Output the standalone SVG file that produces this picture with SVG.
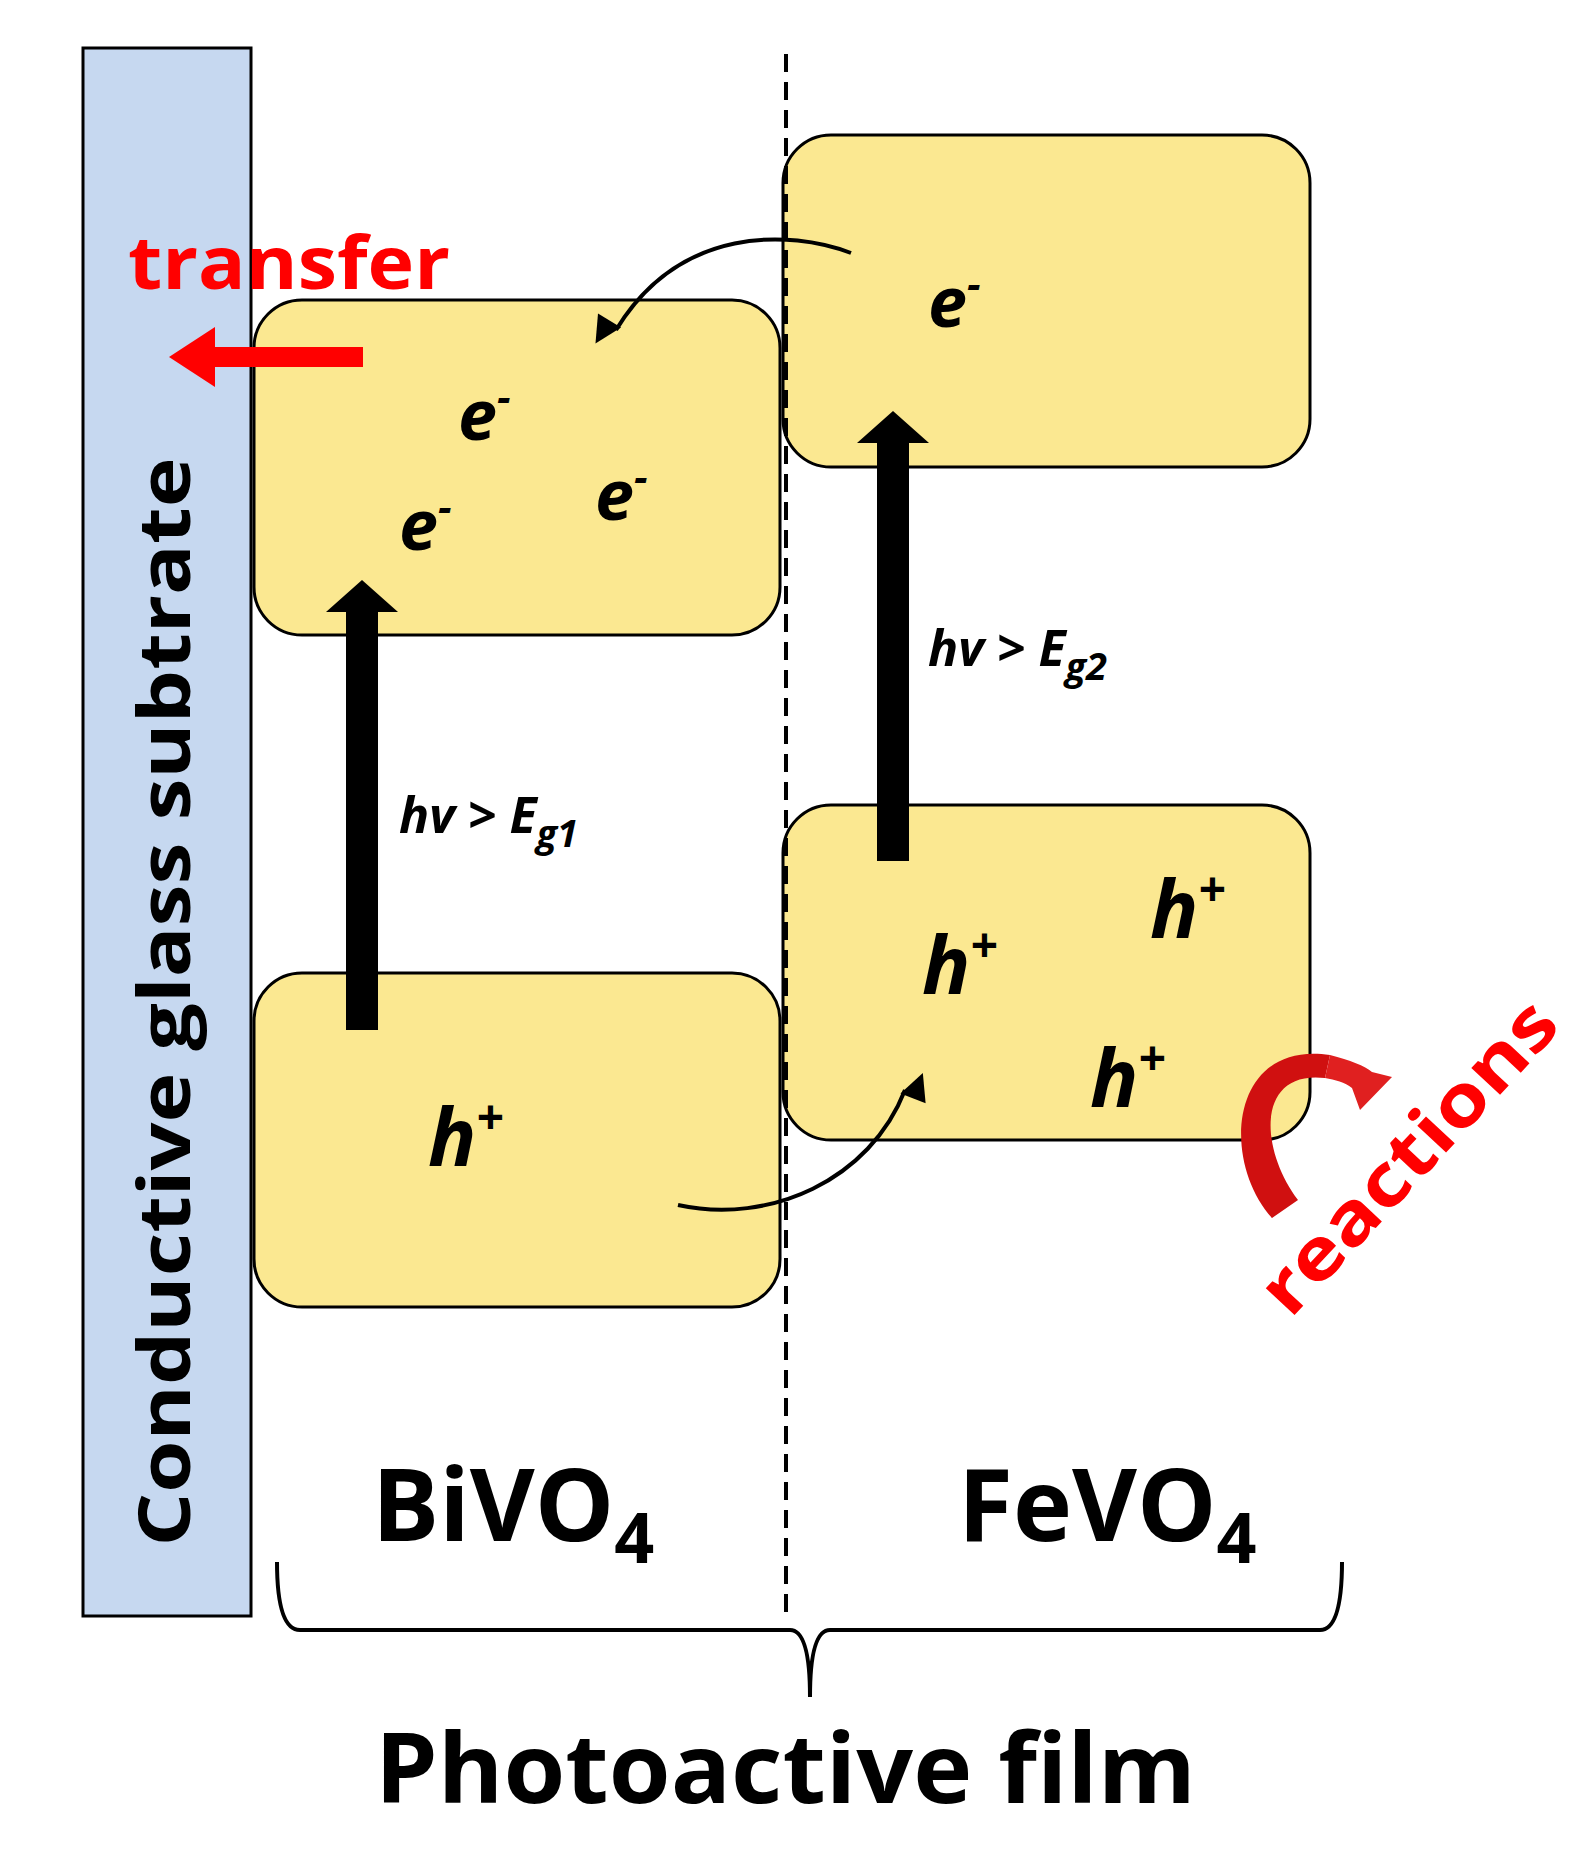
<svg xmlns="http://www.w3.org/2000/svg" width="1584" height="1868" viewBox="0 0 1584 1868">
<style>
.box{fill:#fbe891;stroke:#000;stroke-width:3}
.t{font-family:"Open Sans","DejaVu Sans",sans-serif;font-weight:bold}
.it{font-family:"Open Sans","DejaVu Sans",sans-serif;font-weight:bold;font-style:italic}
.cur{fill:none;stroke:#000;stroke-width:4}
</style>
<defs>
<marker id="ah" viewBox="0 0 10 10" refX="8" refY="5" markerWidth="6" markerHeight="6" orient="auto" markerUnits="userSpaceOnUse" style="overflow:visible">
<path d="M0,0 L10,5 L0,10 Z" fill="#000" transform="scale(4.5)"/>
</marker>
</defs>
<g id="substrate">
<rect x="83" y="48" width="168" height="1568" fill="#c6d8f0" stroke="#000" stroke-width="3"/>
<text class="t" transform="translate(190,1002) rotate(-90)" text-anchor="middle" font-size="72" textLength="1089" lengthAdjust="spacingAndGlyphs">Conductive  glass  subtrate</text>
</g>
<g id="bivo4-cb"><rect class="box" x="254" y="300" width="526" height="335" rx="48"/>
<text class="it" x="458" y="440" font-size="70">e<tspan dy="-28" font-size="42">-</tspan></text>
<text class="it" x="399" y="550" font-size="70">e<tspan dy="-28" font-size="42">-</tspan></text>
<text class="it" x="595" y="520" font-size="70">e<tspan dy="-28" font-size="42">-</tspan></text></g>
<g id="bivo4-vb"><rect class="box" x="254" y="973" width="526" height="334" rx="48"/>
<text class="it" x="428" y="1166" font-size="80">h<tspan dy="-32" font-size="48">+</tspan></text></g>
<g id="fevo4-cb"><rect class="box" x="783" y="135" width="527" height="332" rx="48"/>
<text class="it" x="928" y="327" font-size="70">e<tspan dy="-28" font-size="42">-</tspan></text></g>
<g id="fevo4-vb"><rect class="box" x="783" y="805" width="527" height="335" rx="48"/>
<text class="it" x="922" y="994" font-size="80">h<tspan dy="-32" font-size="48">+</tspan></text>
<text class="it" x="1150" y="938" font-size="80">h<tspan dy="-32" font-size="48">+</tspan></text>
<text class="it" x="1090" y="1107" font-size="80">h<tspan dy="-32" font-size="48">+</tspan></text></g>
<line x1="786" y1="54" x2="786" y2="1620" stroke="#000" stroke-width="4" stroke-dasharray="18,10"/>
<g id="connectors">
<rect x="346" y="610" width="32" height="420" fill="#000"/>
<polygon points="326,612 362,580 398,612" fill="#000"/>
<rect x="877" y="440" width="32" height="421" fill="#000"/>
<polygon points="857,443 893,411 929,443" fill="#000"/>
<path class="cur" d="M851,253 C790,230 680,225 616,330" marker-end="url(#ah)"/>
<path class="cur" d="M678,1205 C770,1225 870,1180 905,1090" marker-end="url(#ah)"/>
<line x1="363" y1="357" x2="210" y2="357" stroke="#f00" stroke-width="20"/>
<polygon points="215,327 169,357 215,387" fill="#f00"/>
<path d="M1272,1218 C1220,1160 1230,1040 1330,1055 L1325,1078 C1255,1070 1260,1150 1298,1200 Z" fill="#d01010"/>
<path d="M1330,1055 C1350,1060 1365,1066 1372,1072 L1392,1077 L1360,1110 L1352,1088 C1345,1082 1335,1080 1325,1078 Z" fill="#e02020"/>
<path d="M277,1562 Q277,1630 300,1630 L790,1630 Q810,1630 810,1697 Q810,1630 830,1630 L1320,1630 Q1342,1630 1342,1562" fill="none" stroke="#000" stroke-width="4"/>
</g>
<text class="it" x="399" y="833" font-size="50">hv &gt; E<tspan dy="14" font-size="38">g1</tspan></text>
<text class="it" x="928" y="666" font-size="50">hv &gt; E<tspan dy="14" font-size="38">g2</tspan></text>
<text class="t" x="128" y="289" font-size="74" fill="#f00" textLength="322" lengthAdjust="spacingAndGlyphs">transfer</text>
<text class="t" transform="translate(1290,1320) rotate(-47)" font-size="72" fill="#f00" textLength="400" lengthAdjust="spacingAndGlyphs">reactions</text>
<text class="t" x="372" y="1541" font-size="100">BiVO<tspan dy="22" font-size="70">4</tspan></text>
<text class="t" x="958" y="1541" font-size="100">FeVO<tspan dy="22" font-size="70">4</tspan></text>
<text class="t" x="375" y="1803" font-size="96" textLength="821" lengthAdjust="spacingAndGlyphs">Photoactive film</text>
</svg>
